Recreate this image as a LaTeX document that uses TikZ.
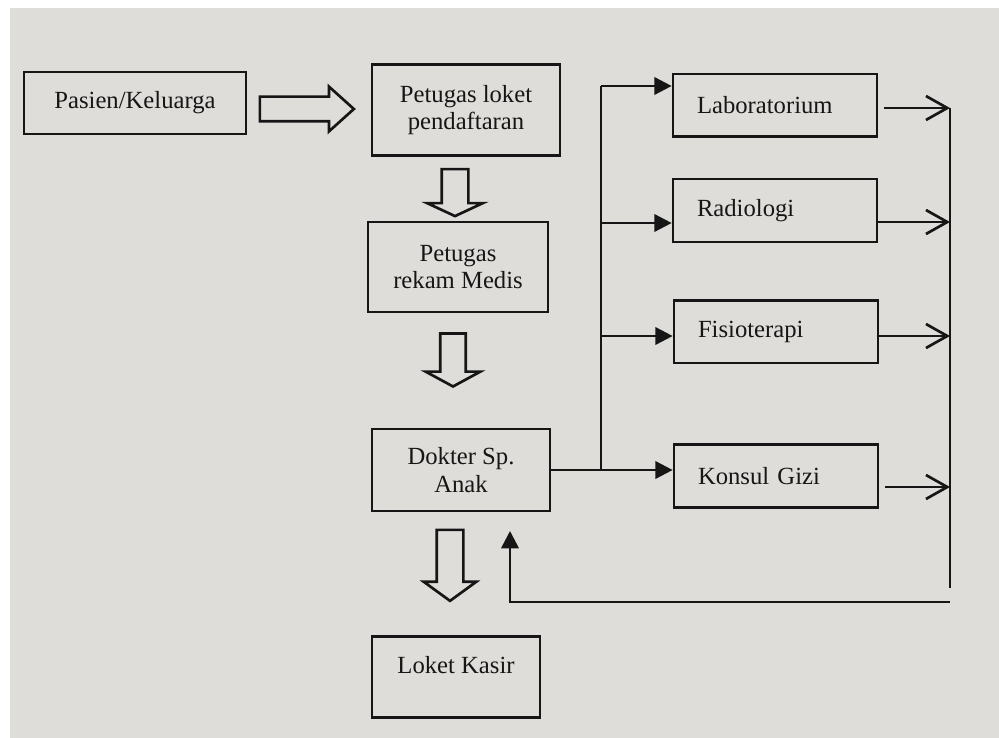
\documentclass[tikz,border=0pt]{standalone}
\usepackage{fontspec}
\setmainfont{Liberation Serif}
\usetikzlibrary{arrows.meta,shapes.arrows}
\definecolor{paper}{RGB}{222,221,217}
\definecolor{ink}{RGB}{22,22,22}

\begin{document}
\begin{tikzpicture}[x=0.75pt, y=-0.75pt,
	box/.style={draw=ink, line width=2pt, align=center, text=ink, font=\fontsize{18.5}{20.5}\selectfont},
	unit/.style={box, align=left, text width=117pt, inner xsep=18pt, minimum height=47pt},
	hollow/.style={single arrow, draw=ink, line width=2pt, fill=paper, inner xsep=0pt},
	wire/.style={draw=ink, line width=2pt},
	feed/.style={wire, -{Triangle[length=13pt,width=13pt]}},
	back/.style={wire, -{Straight Barb[length=16pt,width=18pt]}}]

	\fill[white] (0,0) rectangle (999,738);
	\fill[paper] (10,8) rectangle (999,738);
	\useasboundingbox (0,0) rectangle (999,738);

	% main column
	\node[box, minimum width=166.5pt, minimum height=46.5pt] (pasien) at (135,103) {Pasien/Keluarga};
	\node[box, minimum width=141pt, minimum height=68pt] (loket) at (466,110) {Petugas loket\\pendaftaran};
	\node[box, minimum width=135pt, minimum height=67.5pt] (rekam) at (458,267) {Petugas\\rekam Medis};
	\node[box, minimum width=133.5pt, minimum height=61.5pt] (dokter) at (461,470) {Dokter Sp.\\Anak};
	\node[box, minimum width=126pt, minimum height=61pt, text depth=18pt] (kasir) at (456,677) {Loket Kasir};

	% units
	\node[unit] (lab) at (775,105.5) {Laboratorium};
	\node[unit] (radio) at (775,210.5) {Radiologi};
	\node[unit] (fisio) at (776,331.5) {Fisioterapi};
	\node[unit] (gizi) at (776,476) {Konsul Gizi};

	% hollow arrows
	\node[hollow, minimum height=70.5pt, inner ysep=8.25pt, single arrow head extend=7.5pt, single arrow tip angle=84] (s1) at (300,109) {};
	\node[hollow, rotate=-90, minimum height=35.25pt, inner ysep=9pt, single arrow head extend=10.9pt, single arrow tip angle=130] (s2) at (455,189.5) {};
	\node[hollow, rotate=-90, minimum height=39.75pt, inner ysep=8.6pt, single arrow head extend=10.9pt, single arrow tip angle=123] (s3) at (453,356.5) {};
	\node[hollow, rotate=-90, minimum height=53.25pt, inner ysep=9pt, single arrow head extend=9.75pt, single arrow tip angle=108] (s4) at (450,560.5) {};

	% left bus
	\coordinate (b1) at (601,86);
	\coordinate (b2) at (601,223);
	\coordinate (b3) at (601,336);
	\coordinate (b4) at (601,470);
	\draw[wire] (dokter.east) -- (b4) -- (b1);
	\draw[feed] (b1) -- (b1 -| lab.west);
	\draw[feed] (b2) -- (b2 -| radio.west);
	\draw[feed] (b3) -- (b3 -| fisio.west);
	\draw[feed] (b4) -- (b4 -| gizi.west);

	% right bus
	\coordinate (r1) at (950,108);
	\coordinate (r2) at (950,222);
	\coordinate (r3) at (950,336);
	\coordinate (r4) at (950,487);
	\coordinate (rbot) at (950,588);
	\coordinate (ret) at (510,602);
	\draw[wire] (r1) -- (rbot);
	\draw[back, shorten <=4.5pt] (r1 -| lab.east) -- (r1);
	\draw[back] (r2 -| radio.east) -- (r2);
	\draw[back] (r3 -| fisio.east) -- (r3);
	\draw[back, shorten <=4.5pt] (r4 -| gizi.east) -- (r4);
	\draw[feed, shorten >=14pt] (rbot |- ret) -- (ret) -- (ret |- dokter.south);

\end{tikzpicture}
\end{document}
